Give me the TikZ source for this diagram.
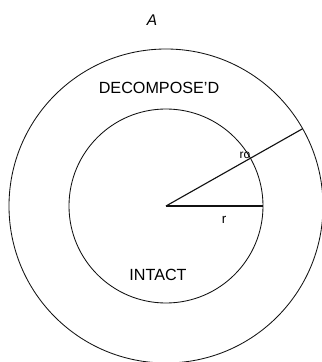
\documentclass[tikz,border=0pt]{standalone}
\usepackage{fontspec}
\setmainfont{Liberation Sans}
\usetikzlibrary{positioning, calc}
\definecolor{InkBlack}{HTML}{111111}

\begin{document}
\begin{tikzpicture}[x=0.025cm, y=0.025cm]
                % Frame of the figure
                \useasboundingbox (-166,-156) rectangle (156,206);

                % Centre and radii
                \coordinate (centre) at (0,0);
                \coordinate (rimOuter) at (29.5:157);
                \coordinate (rimInner) at (0:97);

                % Outer and inner spheres
                \draw[color=InkBlack, line width=0.6pt] (centre) circle (157);
                \draw[color=InkBlack, line width=0.6pt] (centre) circle (97);

                % Radii
                \draw[color=InkBlack, line width=0.8pt] (centre) -- (rimOuter);
                \draw[color=InkBlack, line width=1.1pt] (centre) -- (rimInner);

                % Labels
                \node[font=\fontsize{11}{13}\selectfont\itshape] (title) at (-14,186) {A};
                \node[font=\fontsize{11.5}{14}\selectfont] (shell) at (-7,118) {DECOMPOSE'D};
                \node[font=\fontsize{11.5}{14}\selectfont] (core) at (-8,-69) {INTACT};
                \node[font=\fontsize{8.5}{10}\selectfont] (routerlabel) at (79,51) {ro};
                \node[font=\fontsize{9.5}{11}\selectfont] (rlabel) at (58,-14) {r};
            \end{tikzpicture}
\end{document}
